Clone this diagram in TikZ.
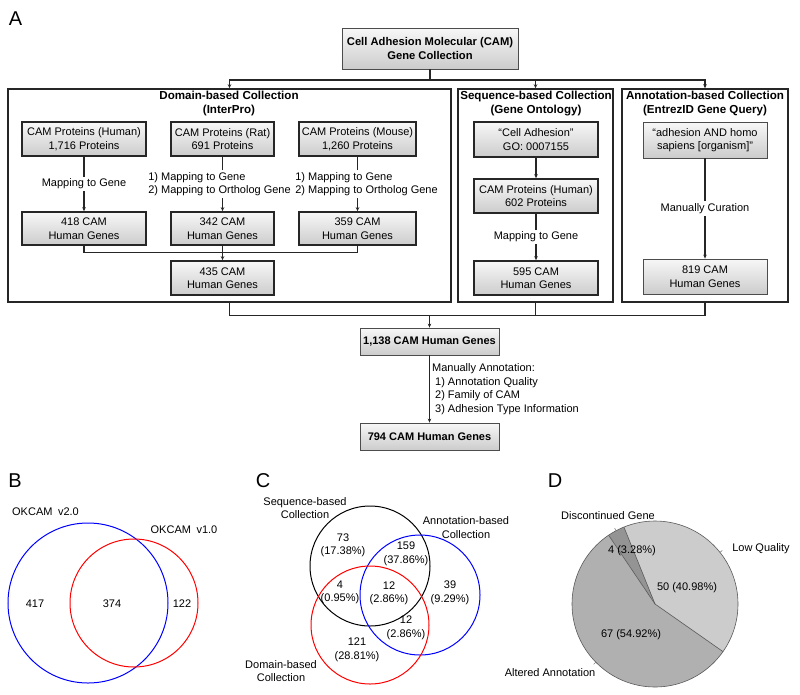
\documentclass[tikz,border=0pt]{standalone}
\usepackage{fontspec}
\setmainfont{Liberation Sans}
\usetikzlibrary{arrows.meta,calc}

\tikzset{
	basefont/.style={font=\fontsize{11}{13.5}\selectfont},
	boldfont/.style={font=\fontsize{11}{13.5}\selectfont\bfseries},
	panel/.style={font=\fontsize{20}{22}\selectfont, inner sep=0pt},
	genebox/.style={basefont, draw=black!85, line width=1.6pt, top color=black!3, bottom color=black!20, align=center, inner sep=1pt},
	lightbox/.style={genebox, draw=gray!60!black, line width=0.8pt},
	colframe/.style={draw=black!85, line width=1.5pt, inner sep=0pt},
	coltitle/.style={font=\fontsize{11.6}{13.5}\selectfont\bfseries, align=center, inner sep=0pt},
	flow/.style={draw=black!85, line width=1.2pt},
	arr/.style={flow, -{Stealth[length=4pt,width=3.5pt]}},
	steplabel/.style={basefont, fill=white, align=left, inner sep=2pt},
	venn/.style={circle, draw, line width=1pt, inner sep=0pt},
	vennlabel/.style={basefont, align=center, inner sep=0pt},
	slice/.style={draw=black!65, line width=0.6pt}
}

\begin{document}
\begin{tikzpicture}[x=1pt,y=-1pt]
	\useasboundingbox (0,0) rectangle (800,694);
	% A: collection workflow
	\node[panel] (labA) at (15.5,18.5) {A};
	\node[lightbox, font=\fontsize{11.2}{13.5}\selectfont\bfseries, minimum width=176pt, minimum height=41pt] (top) at (430,48.5) {Cell Adhesion Molecular (CAM)\\Gene Collection};
	
	\node[colframe, minimum width=443pt, minimum height=213pt] (domain) at (229.5,195.5) {};
	\node[colframe, minimum width=155pt, minimum height=213pt] (seq) at (535.5,195.5) {};
	\node[colframe, minimum width=166pt, minimum height=213pt] (annot) at (705,195.5) {};
	\node[coltitle] (domaintitle) at (229,103.5) {Domain-based Collection\\(InterPro)};
	\node[coltitle] (seqtitle) at (536,103.5) {Sequence-based Collection\\(Gene Ontology)};
	\node[coltitle] (annottitle) at (705,103.5) {Annotation-based Collection\\(EntrezID Gene Query)};
	
	\draw[arr] (top.south) -- ++(0,10.5) coordinate (split) -| (domain.north);
	\draw[arr] (split) -| (seq.north);
	\draw[arr] (split) -| (annot.north);
	
	% domain-based column
	\node[genebox, minimum width=124pt, minimum height=34pt] (humanprot) at (84,139) {CAM Proteins (Human)\\1,716 Proteins};
	\node[genebox, minimum width=103pt, minimum height=34pt] (ratprot) at (222.5,139) {CAM Proteins (Rat)\\691 Proteins};
	\node[genebox, minimum width=117pt, minimum height=34pt] (mouseprot) at (357.5,139) {CAM Proteins (Mouse)\\1,260 Proteins};
	\node[genebox, minimum width=124pt, minimum height=33pt] (humangene) at (84,228.5) {418 CAM\\Human Genes};
	\node[genebox, minimum width=103pt, minimum height=33pt] (ratgene) at (222.5,228.5) {342 CAM\\Human Genes};
	\node[genebox, minimum width=117pt, minimum height=33pt] (mousegene) at (357.5,228.5) {359 CAM\\Human Genes};
	\node[genebox, minimum width=103pt, minimum height=34pt] (domaingene) at (222.5,278) {435 CAM\\Human Genes};
	
	\draw[arr] (humanprot) -- node[steplabel] {Mapping to Gene} (humangene);
	\draw[arr] (ratprot) -- node[steplabel, xshift=-3pt] {1) Mapping to Gene\\2) Mapping to Ortholog Gene} (ratgene);
	\draw[arr] (mouseprot) -- node[steplabel, xshift=9pt] {1) Mapping to Gene\\2) Mapping to Ortholog Gene} (mousegene);
	\draw[flow] (humangene.south) -- ++(0,7) -| (mousegene.south);
	\draw[arr] (ratgene.south) -- (domaingene.north);
	
	% sequence-based column
	\node[genebox, minimum width=124pt, minimum height=35pt] (goterm) at (536,139.5) {“Cell Adhesion”\\GO: 0007155};
	\node[genebox, minimum width=124pt, minimum height=34pt] (seqprot) at (536,196) {CAM Proteins (Human)\\602 Proteins};
	\node[genebox, minimum width=124pt, minimum height=34pt] (seqgene) at (536,278) {595 CAM\\Human Genes};
	\draw[arr] (goterm) -- (seqprot);
	\draw[arr] (seqprot) -- node[steplabel] {Mapping to Gene} (seqgene);
	
	% annotation-based column
	\node[lightbox, minimum width=124pt, minimum height=36pt] (query) at (705,140) {“adhesion AND homo\\sapiens [organism]”};
	\node[lightbox, minimum width=124pt, minimum height=35pt] (annotgene) at (705,276.5) {819 CAM\\Human Genes};
	\draw[arr] (query) -- node[steplabel] {Manually Curation} (annotgene);
	
	% merge
	\node[lightbox, boldfont, minimum width=139pt, minimum height=27pt] (allgene) at (429.5,341.5) {1,138 CAM Human Genes};
	\node[lightbox, boldfont, minimum width=139pt, minimum height=27pt] (finalgene) at (429.5,436.5) {794 CAM Human Genes};
	\draw[flow] (domain.south) -- ++(0,13) coordinate (merge) -| (annot.south);
	\draw[flow] (seq.south) -- (seq.south |- merge);
	\draw[arr] (allgene.north |- merge) -- (allgene.north);
	\draw[arr] (allgene) -- node[steplabel, fill=none, anchor=west] {Manually Annotation:\\ \ 1) Annotation Quality\\ \ 2) Family of CAM\\ \ 3) Adhesion Type Information} (finalgene);
	
	% B: OKCAM versions
	\node[panel] (labB) at (15,481) {B};
	\node[venn, draw=blue, minimum size=160pt] (okv2) at (88,603) {};
	\node[venn, draw=red, minimum size=128pt] (okv1) at (134,603) {};
	\node[vennlabel] (okv2name) at (45.5,512) {OKCAM\enspace v2.0};
	\node[vennlabel] (okv1name) at (184,530) {OKCAM\enspace v1.0};
	\node[vennlabel] (onlyv2) at (35,604) {417};
	\node[vennlabel] (bothv) at (112,604) {374};
	\node[vennlabel] (onlyv1) at (182,604) {122};
	
	% C: three collections
	\node[panel] (labC) at (263,481) {C};
	\node[venn, draw=black, minimum size=120pt] (seqset) at (370,566) {};
	\node[venn, draw=blue, minimum size=120pt] (annotset) at (420,595) {};
	\node[venn, draw=red, minimum size=118pt] (domainset) at (370,625) {};
	\node[vennlabel] (seqname) at (305,508) {Sequence-based\\Collection};
	\node[vennlabel] (annotname) at (466,527.5) {Annotation-based\\Collection};
	\node[vennlabel] (domainname) at (281,671) {Domain-based\\Collection};
	\node[vennlabel] (onlyseq) at (343,545.5) {73\\(17.38\%)};
	\node[vennlabel] (seqannot) at (406,554) {159\\(37.86\%)};
	\node[vennlabel] (seqdomain) at (340,592.5) {4\\(0.95\%)};
	\node[vennlabel] (allthree) at (389,593.5) {12\\(2.86\%)};
	\node[vennlabel] (onlyannot) at (450,593) {39\\(9.29\%)};
	\node[vennlabel] (annotdomain) at (406,628) {12\\(2.86\%)};
	\node[vennlabel] (onlydomain) at (357,650) {121\\(28.81\%)};
	
	% D: removed genes
	\node[panel] (labD) at (555,481) {D};
	\coordinate (pie) at (655,604);
	\fill[black!20] (pie) -- ++(-35:83pt) arc[start angle=-35, end angle=112, radius=83pt] -- cycle;
	\fill[black!42] (pie) -- ++(112:83pt) arc[start angle=112, end angle=124, radius=83pt] -- cycle;
	\fill[black!31] (pie) -- ++(124:83pt) arc[start angle=124, end angle=325, radius=83pt] -- cycle;
	\draw[slice] (pie) circle[radius=83pt];
	\foreach \ang in {-35,112,124}
		\draw[slice] (pie) -- ++(\ang:83pt);
	\foreach \ang in {38.5,118,224.5}
		\draw[slice, gray] ($(pie)+(\ang:83pt)$) -- ++(\ang:3pt);
	\node[vennlabel] (lowname) at (761,549) {Low Quality};
	\node[vennlabel] (discname) at (608,516) {Discontinued Gene};
	\node[vennlabel] (altname) at (550,673) {Altered Annotation};
	\node[vennlabel] (lowval) at (687,588) {50 (40.98\%)};
	\node[vennlabel] (discval) at (632,551) {4 (3.28\%)};
	\node[vennlabel] (altval) at (631,635) {67 (54.92\%)};
\end{tikzpicture}
\end{document}
